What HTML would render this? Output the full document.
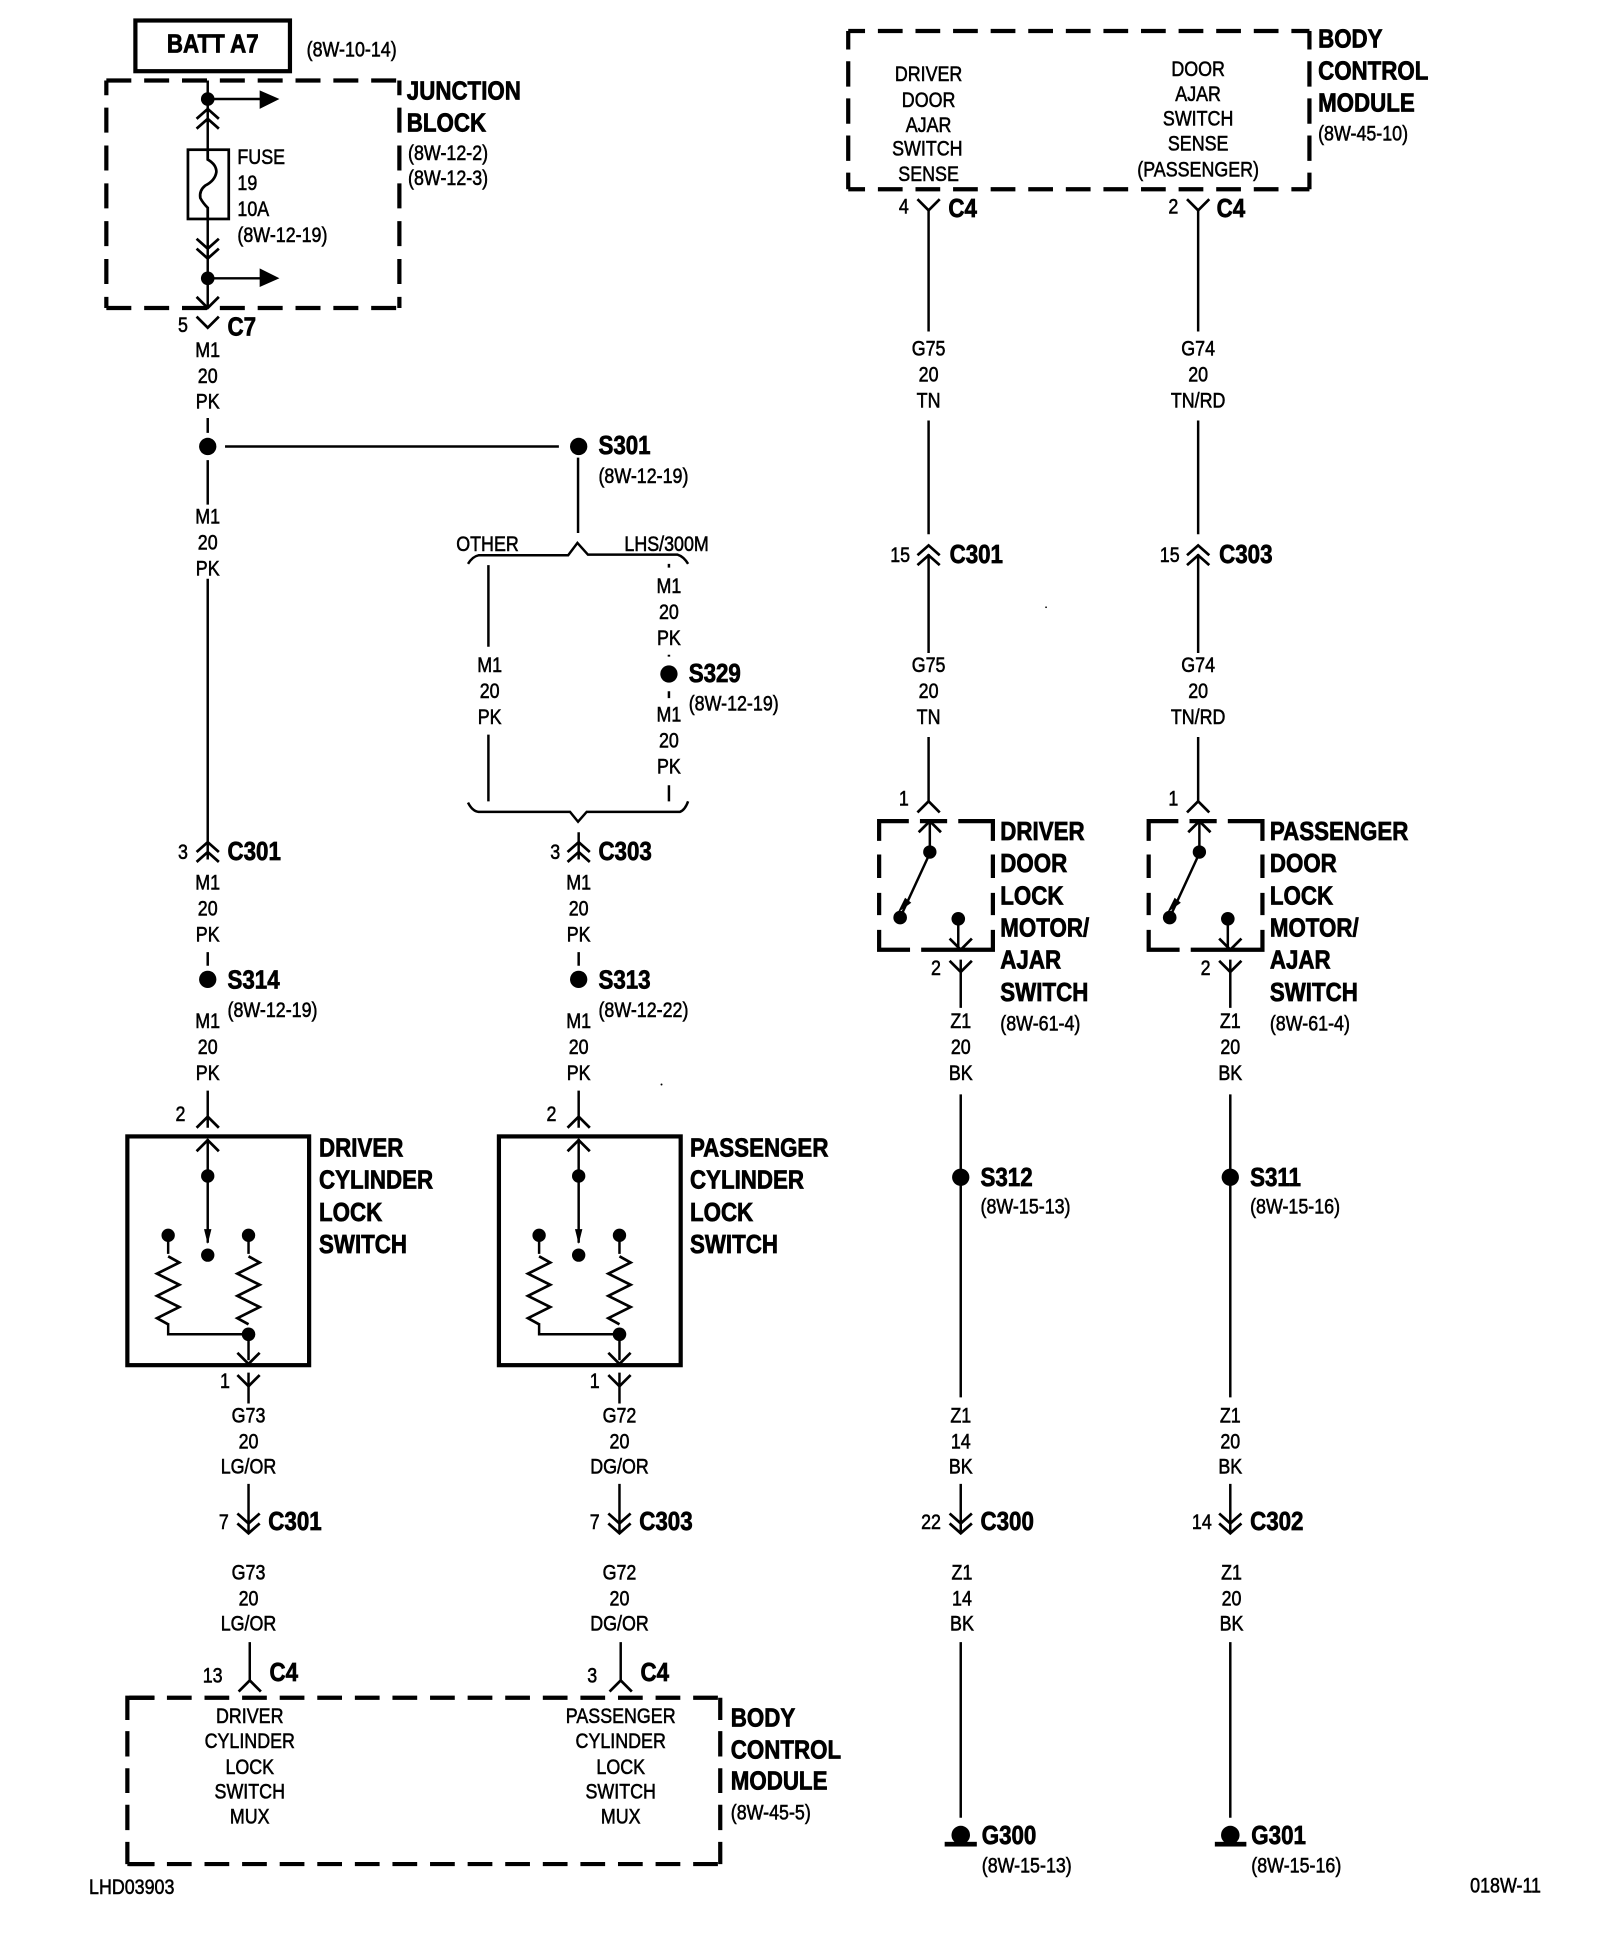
<!DOCTYPE html>
<html><head><meta charset="utf-8"><title>Door lock wiring diagram</title>
<style>
html,body{margin:0;padding:0;background:#fff}
svg{display:block}
text{fill:#000;stroke:#000;transform-box:fill-box}
g.s text{font:17px "Liberation Sans",sans-serif;text-anchor:middle;stroke-width:.45;transform-origin:50% 50%;transform:scaleX(.85)}
g.l text{font:17px "Liberation Sans",sans-serif;stroke-width:.45;transform-origin:0 50%;transform:scaleX(.85)}
g.b text{font:bold 21px "Liberation Sans",sans-serif;stroke-width:.6;transform-origin:0 50%;transform:scaleX(.86)}
g.w{fill:none;stroke:#000;stroke-width:2}
g.t{fill:none;stroke:#000;stroke-width:3.4}
g.d{fill:none;stroke:#000;stroke-width:3.4;stroke-dasharray:20.2 10.4}
g.x{fill:none;stroke:#000;stroke-width:3.4}
g.k circle{fill:#000;stroke:none}
</style></head>
<body>
<svg xmlns="http://www.w3.org/2000/svg" width="1600" height="1938" viewBox="0 0 1294 1567.2">
<defs>
<path id="yd" d="M-9 -9L0 0L9 -9" fill="none" stroke="#000" stroke-width="2.2"/>
<path id="yu" d="M-9 9L0 0L9 9" fill="none" stroke="#000" stroke-width="2.2"/>
<path id="dd" d="M-9 -16L0 -8L9 -16M-9 -8L0 0L9 -8" fill="none" stroke="#000" stroke-width="2.2"/>
<path id="du" d="M-9 16L0 8L9 16M-9 8L0 0L9 8" fill="none" stroke="#000" stroke-width="2.2"/>
<path id="zz" d="M0 0L9 5L-9 14L9 23L-9 32L9 41L-9 50L0 55" fill="none" stroke="#000" stroke-width="2.2"/>
</defs>
<rect width="1294" height="1567.2" fill="#fff"/>

<!-- solid boxes -->
<g class="t">
<rect x="109.500" y="16.500" width="125" height="41"/>
<rect x="103" y="919" width="147" height="185"/>
<rect x="403.500" y="919" width="147" height="185"/>
</g>

<!-- junction block -->
<g class="d">
<path d="M86 65H323M86 249H323"/>
<path d="M86 87V249M323 87V249"/>
</g>
<g class="x"><path d="M86 77V65M323 77V65"/></g>

<!-- top body control module -->
<g class="d" style="stroke-dasharray:20 10.4;stroke-dashoffset:6.400">
<path d="M686 25H1059M686 153H1059"/>
</g>
<g class="x">
<path d="M686 40V25M1059 40V25"/>
<path d="M686 49.500V70M686 79.500V100M686 109.500V130M686 139.500V153"/>
<path d="M1059 49.500V70M1059 79.500V100M1059 109.500V130M1059 139.500V153"/>
</g>

<!-- bottom body control module -->
<g class="d" style="stroke-dasharray:20 10.4;stroke-dashoffset:28.800">
<path d="M103 1373H582.500M103 1507.500H582.500"/>
</g>
<g class="x">
<path d="M103 1391V1373H125M103 1507.500V1489.500M582.500 1391V1373M582.500 1507.500V1489.500"/>
<path d="M103 1400V1420.500M103 1430V1450M103 1459.500V1480"/>
<path d="M582.500 1400V1420.500M582.500 1430V1450M582.500 1459.500V1480"/>
<path d="M103 1507.500H125"/>
</g>

<!-- switch dashed boxes -->
<g class="x">
<path d="M711 680V664H735M744 664H766M775 664H803V680"/>
<path d="M711 691V710M711 722V740M711 752V768H736M745 768H803V752M803 691V710M803 722V740"/>
<path d="M929 680V664H953M962 664H984M993 664H1021V680"/>
<path d="M929 691V710M929 722V740M929 752V768H954M963 768H1021V752M1021 691V710M1021 722V740"/>
</g>

<!-- wires -->
<g class="w">
<path d="M168 65V121M168 177V249"/>
<path d="M168 80H212M168 225H212"/>
<path d="M168 338V350M168 372V408M168 468V695"/>
<path d="M182 361H452"/>
<path d="M467.500 370V431"/>
<path d="M378.500 456Q382 450 387 449H459.500L467 439L475.500 448.500H548Q553 450 556.500 456"/>
<path d="M378.500 649Q382 656 387 656.500H461L467.500 664.500L474.500 656.500H550Q554 655 556.500 648"/>
<path d="M395 457V523M395 594V648"/>
<path d="M541 456V459M541 529.500V531M541 559V564.500M541 635V648"/>
<path d="M468 673V695"/>
<path d="M168 770V781M468 770V781"/>
<path d="M168 882V912M468 882V912"/>
<path d="M168 921V1005"/>
<path d="M468 921V1005"/>
<path d="M201 1080V1100M501 1080V1100M201 1110V1135M501 1110V1135"/>
<path d="M136 999V1014M201 999V1014M436 999V1014M501 999V1014"/>
<path d="M136 1070V1079H201M436 1070V1079H501"/>
<path d="M201 1200V1240M501 1200V1240M202 1328V1360M502 1328V1360"/>
<path d="M751 170V268M751 340V432M751 448V528M751 596V648"/>
<path d="M969 170V268M969 340V432M969 448V528M969 596V648"/>
<path d="M752 664V690L728 742"/><path d="M970 664V690L946 742"/>
<path d="M775 743V768M993 743V768"/>
<path d="M777 776V815M995 776V815M777 885V1130M995 885V1130"/>
<path d="M777 1200V1240M995 1200V1240M777 1328V1470M995 1328V1470"/>
<path d="M168 121V129Q175 133 175 139Q174 146 166 150Q161 154 162 160Q164 164 168 168V177" stroke-width="2.2"/>
<rect x="152" y="121" width="33" height="56" stroke-width="2.2"/>
</g>

<!-- arrow heads -->
<g fill="#000">
<path d="M210 73L226 80L210 88Z"/><path d="M210 217L226 225L210 232Z"/>
<path d="M165 994L171 994L168 1006Z"/><path d="M465 994L471 994L468 1006Z"/>
<path d="M726 738L732 726L737 730Z"/><path d="M944 738L950 726L955 730Z"/>
<circle cx="777" cy="1484" r="7.500"/><rect x="764" y="1489.500" width="26" height="3.800"/>
<circle cx="995" cy="1484" r="7.500"/><rect x="982.500" y="1489.500" width="25.500" height="3.800"/>
<circle cx="846" cy="491" r=".7"/><circle cx="535" cy="877" r=".8"/>
</g>

<!-- connectors -->
<use href="#du" x="168" y="88"/>
<use href="#dd" x="168" y="209"/>
<use href="#yd" x="168" y="249"/>
<use href="#yd" x="168" y="265"/>
<use href="#du" x="168" y="681"/>
<use href="#du" x="468" y="681"/>
<use href="#yu" x="168" y="903"/>
<use href="#yu" x="468" y="903"/>
<use href="#yu" x="168" y="922"/>
<use href="#yu" x="468" y="922"/>
<use href="#yd" x="201" y="1103"/>
<use href="#yd" x="501" y="1103"/>
<use href="#yd" x="201" y="1121"/>
<use href="#yd" x="501" y="1121"/>
<use href="#dd" x="201" y="1240"/>
<use href="#dd" x="501" y="1240"/>
<use href="#yu" x="202" y="1359"/>
<use href="#yu" x="502" y="1359"/>
<use href="#yd" x="751" y="170"/>
<use href="#yd" x="969" y="170"/>
<use href="#du" x="751" y="441"/>
<use href="#du" x="969" y="441"/>
<use href="#yu" x="751" y="648"/>
<use href="#yu" x="969" y="648"/>
<use href="#yu" x="752" y="664"/>
<use href="#yu" x="970" y="664"/>
<use href="#yd" x="777" y="768"/>
<use href="#yd" x="995" y="768"/>
<use href="#yd" x="777" y="786"/>
<use href="#yd" x="995" y="786"/>
<use href="#dd" x="777" y="1240"/>
<use href="#dd" x="995" y="1240"/>
<use href="#zz" x="136" y="1016"/>
<use href="#zz" x="201" y="1016"/>
<use href="#zz" x="436" y="1016"/>
<use href="#zz" x="501" y="1016"/>

<!-- dots -->
<g class="k">
<circle cx="168" cy="80" r="5.500"/><circle cx="168" cy="225" r="5.500"/>
<circle cx="168" cy="361" r="7"/><circle cx="468" cy="361" r="7"/>
<circle cx="541" cy="545" r="7"/>
<circle cx="168" cy="792" r="7"/><circle cx="468" cy="792" r="7"/>
<circle cx="777" cy="952" r="7"/><circle cx="995" cy="952" r="7"/>
<circle cx="168" cy="951" r="5.400"/><circle cx="168" cy="1015" r="5.400"/><circle cx="136" cy="999" r="5.400"/><circle cx="201" cy="999" r="5.400"/><circle cx="201" cy="1079" r="5.500"/>
<circle cx="468" cy="951" r="5.400"/><circle cx="468" cy="1015" r="5.400"/><circle cx="436" cy="999" r="5.400"/><circle cx="501" cy="999" r="5.400"/><circle cx="501" cy="1079" r="5.500"/>
<circle cx="752" cy="689" r="5.400"/><circle cx="728" cy="742" r="5.500"/><circle cx="775" cy="743" r="5.500"/>
<circle cx="970" cy="689" r="5.400"/><circle cx="946" cy="742" r="5.500"/><circle cx="993" cy="743" r="5.500"/>
</g>

<!-- bold labels -->
<g class="b" transform="translate(0 -.7)">
<text x="135" y="43">BATT A7</text>
<text x="329" y="81">JUNCTION</text><text x="329" y="107">BLOCK</text>
<text x="184" y="272">C7</text>
<text x="484" y="368">S301</text><text x="557" y="552">S329</text>
<text x="184" y="696">C301</text><text x="484" y="696">C303</text>
<text x="184" y="800">S314</text><text x="484" y="800">S313</text>
<text x="258" y="936">DRIVER</text><text x="258" y="962">CYLINDER</text><text x="258" y="988">LOCK</text><text x="258" y="1014">SWITCH</text>
<text x="558" y="936">PASSENGER</text><text x="558" y="962">CYLINDER</text><text x="558" y="988">LOCK</text><text x="558" y="1014">SWITCH</text>
<text x="217" y="1238">C301</text><text x="517" y="1238">C303</text>
<text x="218" y="1360">C4</text><text x="518" y="1360">C4</text>
<text x="591" y="1397">BODY</text><text x="591" y="1423">CONTROL</text><text x="591" y="1448">MODULE</text>
<text x="1066" y="39">BODY</text><text x="1066" y="65">CONTROL</text><text x="1066" y="91">MODULE</text>
<text x="767" y="176">C4</text><text x="984" y="176">C4</text>
<text x="768" y="456">C301</text><text x="986" y="456">C303</text>
<text x="809" y="680">DRIVER</text><text x="809" y="706">DOOR</text><text x="809" y="732">LOCK</text><text x="809" y="758">MOTOR/</text><text x="809" y="784">AJAR</text><text x="809" y="810">SWITCH</text>
<text x="1027" y="680">PASSENGER</text><text x="1027" y="706">DOOR</text><text x="1027" y="732">LOCK</text><text x="1027" y="758">MOTOR/</text><text x="1027" y="784">AJAR</text><text x="1027" y="810">SWITCH</text>
<text x="793" y="960">S312</text><text x="1011" y="960">S311</text>
<text x="793" y="1238">C300</text><text x="1011" y="1238">C302</text>
<text x="794" y="1492">G300</text><text x="1012" y="1492">G301</text>
</g>

<!-- small left labels -->
<g class="l" transform="translate(0 -.5)">
<text x="248" y="46">(8W-10-14)</text>
<text x="192" y="133">FUSE</text><text x="192" y="154">19</text><text x="192" y="175">10A</text><text x="192" y="196">(8W-12-19)</text>
<text x="330" y="130">(8W-12-2)</text><text x="330" y="150">(8W-12-3)</text>
<text x="484" y="391">(8W-12-19)</text>
<text x="369" y="446">OTHER</text><text x="505" y="446">LHS/300M</text>
<text x="557" y="575">(8W-12-19)</text>
<text x="184" y="823">(8W-12-19)</text><text x="484" y="823">(8W-12-22)</text>
<text x="591" y="1472">(8W-45-5)</text>
<text x="72" y="1532">LHD03903</text><text x="1189" y="1531">018W-11</text>
<text x="1066" y="114">(8W-45-10)</text>
<text x="809" y="834">(8W-61-4)</text><text x="1027" y="834">(8W-61-4)</text>
<text x="793" y="982">(8W-15-13)</text><text x="1011" y="982">(8W-15-16)</text>
<text x="794" y="1515">(8W-15-13)</text><text x="1012" y="1515">(8W-15-16)</text>
</g>

<!-- small centred labels -->
<g class="s" transform="translate(0 -.5)">
<text x="148" y="269">5</text>
<text x="168" y="289">M1</text><text x="168" y="310">20</text><text x="168" y="331">PK</text>
<text x="168" y="424">M1</text><text x="168" y="445">20</text><text x="168" y="466">PK</text>
<text x="396" y="544">M1</text><text x="396" y="565">20</text><text x="396" y="586">PK</text>
<text x="541" y="480">M1</text><text x="541" y="501">20</text><text x="541" y="522">PK</text>
<text x="541" y="584">M1</text><text x="541" y="605">20</text><text x="541" y="626">PK</text>
<text x="148" y="695">3</text><text x="449" y="695">3</text>
<text x="168" y="720">M1</text><text x="168" y="741">20</text><text x="168" y="762">PK</text>
<text x="468" y="720">M1</text><text x="468" y="741">20</text><text x="468" y="762">PK</text>
<text x="168" y="832">M1</text><text x="168" y="853">20</text><text x="168" y="874">PK</text>
<text x="468" y="832">M1</text><text x="468" y="853">20</text><text x="468" y="874">PK</text>
<text x="146" y="907">2</text><text x="446" y="907">2</text>
<text x="182" y="1123">1</text><text x="481" y="1123">1</text>
<text x="201" y="1151">G73</text><text x="201" y="1172">20</text><text x="201" y="1192">LG/OR</text>
<text x="501" y="1151">G72</text><text x="501" y="1172">20</text><text x="501" y="1192">DG/OR</text>
<text x="181" y="1237">7</text><text x="481" y="1237">7</text>
<text x="201" y="1278">G73</text><text x="201" y="1299">20</text><text x="201" y="1319">LG/OR</text>
<text x="501" y="1278">G72</text><text x="501" y="1299">20</text><text x="501" y="1319">DG/OR</text>
<text x="172" y="1361">13</text><text x="479" y="1361">3</text>
<text x="202" y="1394">DRIVER</text><text x="202" y="1414">CYLINDER</text><text x="202" y="1435">LOCK</text><text x="202" y="1455">SWITCH</text><text x="202" y="1475">MUX</text>
<text x="502" y="1394">PASSENGER</text><text x="502" y="1414">CYLINDER</text><text x="502" y="1435">LOCK</text><text x="502" y="1455">SWITCH</text><text x="502" y="1475">MUX</text>
<text x="751" y="66">DRIVER</text><text x="751" y="87">DOOR</text><text x="751" y="107">AJAR</text><text x="750" y="126">SWITCH</text><text x="751" y="147">SENSE</text>
<text x="969" y="62">DOOR</text><text x="969" y="82">AJAR</text><text x="969" y="102">SWITCH</text><text x="969" y="122">SENSE</text><text x="969" y="143">(PASSENGER)</text>
<text x="731" y="173">4</text><text x="949" y="173">2</text>
<text x="751" y="288">G75</text><text x="751" y="309">20</text><text x="751" y="330">TN</text>
<text x="969" y="288">G74</text><text x="969" y="309">20</text><text x="969" y="330">TN/RD</text>
<text x="728" y="455">15</text><text x="946" y="455">15</text>
<text x="751" y="544">G75</text><text x="751" y="565">20</text><text x="751" y="586">TN</text>
<text x="969" y="544">G74</text><text x="969" y="565">20</text><text x="969" y="586">TN/RD</text>
<text x="731" y="652">1</text><text x="949" y="652">1</text>
<text x="757" y="789">2</text><text x="975" y="789">2</text>
<text x="777" y="832">Z1</text><text x="777" y="853">20</text><text x="777" y="874">BK</text>
<text x="995" y="832">Z1</text><text x="995" y="853">20</text><text x="995" y="874">BK</text>
<text x="777" y="1151">Z1</text><text x="777" y="1172">14</text><text x="777" y="1192">BK</text>
<text x="995" y="1151">Z1</text><text x="995" y="1172">20</text><text x="995" y="1192">BK</text>
<text x="753" y="1237">22</text><text x="972" y="1237">14</text>
<text x="778" y="1278">Z1</text><text x="778" y="1299">14</text><text x="778" y="1319">BK</text>
<text x="996" y="1278">Z1</text><text x="996" y="1299">20</text><text x="996" y="1319">BK</text>
</g>
</svg>
</body></html>
